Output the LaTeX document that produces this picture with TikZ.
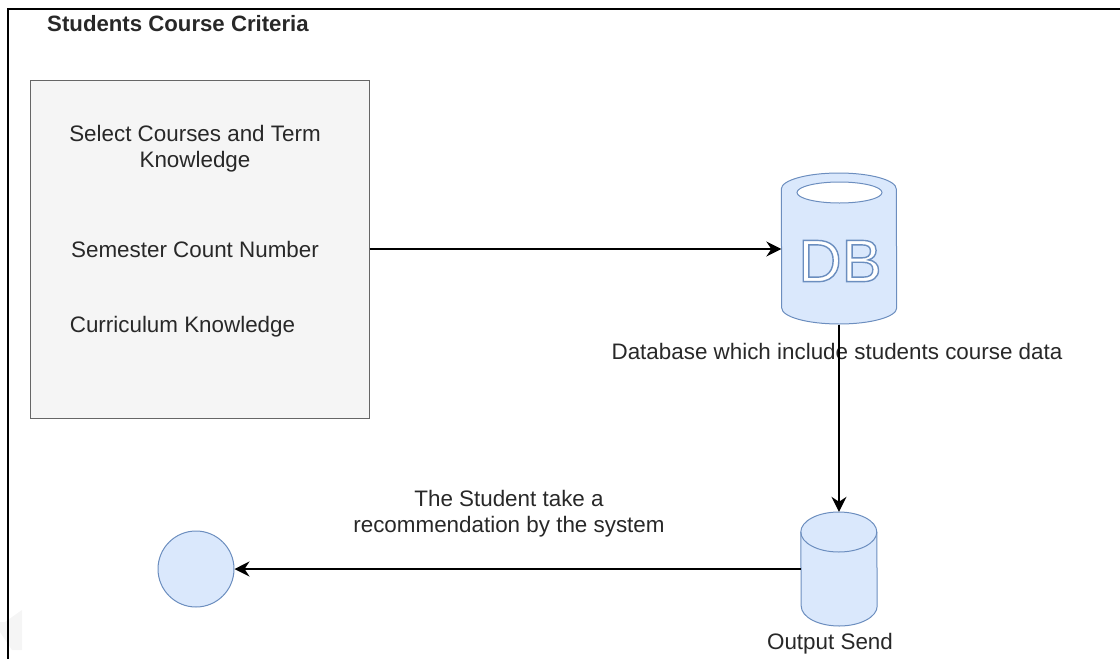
\documentclass[tikz,border=0pt]{standalone}
\usepackage{fontspec}
\setmainfont{Liberation Sans}
\usetikzlibrary{arrows.meta}
\definecolor{boxblue}{RGB}{218,232,252}
\definecolor{edgeblue}{RGB}{108,142,191}
\definecolor{boxgray}{RGB}{245,245,245}
\definecolor{edgegray}{RGB}{102,102,102}
\definecolor{labelgray}{RGB}{40,40,40}
\tikzset{
  frame-line/.style={line width=2pt, draw=black},
  blue-shape/.style={fill=boxblue, draw=edgeblue, line width=1pt, inner sep=0pt},
  input-box/.style={rectangle, fill=boxgray, draw=edgegray, line width=1pt, inner sep=0pt,
    minimum width=339pt, minimum height=338pt},
  blank-area/.style={rectangle, inner sep=0pt},
  label/.style={text=labelgray, font=\fontsize{22.4}{26.5}\selectfont, align=center, inner sep=0pt},
  link/.style={line width=1.3pt, draw=black, -{Stealth[length=15pt,width=15pt,inset=5pt]}}
}
\newcommand{\outlineword}[1]{\textcolor{white}{\special{pdf:code 2 Tr 1.4 w 0.42 0.557 0.749 RG}#1\special{pdf:code 0 Tr}}}

\begin{document}
\begin{tikzpicture}[x=1pt,y=-1pt]
  \useasboundingbox (0,0) rectangle (1120,659);
  % Faint mark in the corner
  \fill[black!4] (0,622) -- (5,622) -- (22,610) -- (22,650) -- (12,650) -- (0,632) -- cycle;
  % Page frame
  \draw[frame-line] (8,659) -- (8,9) -- (1120,9);
  \node[label, font=\bfseries\fontsize{22.2}{26}\selectfont] (title) at (178,24) {Students Course Criteria};
  % Criteria box
  \node[input-box] (criteria) at (199.5,249) {};
  \node[label] (courses) at (195,148.5) {Select Courses and Term\\Knowledge};
  \node[label] (semester) at (195,249) {Semester Count Number};
  \node[label] (curriculum) at (182.5,326.5) {Curriculum Knowledge};
  % Database
  \node[blank-area, minimum width=115pt, minimum height=152pt] (db) at (839,249) {};
  \fill[boxblue, draw=edgeblue, line width=1pt] (db.west |- 0,189) arc[start angle=180, end angle=0, x radius=57.5, y radius=-16]
    -- (db.east |- 0,308) arc[start angle=0, end angle=-180, x radius=57.5, y radius=-16] -- cycle;
  \draw[edgeblue, fill=white, line width=1pt] (839.5,192.5) ellipse [x radius=42.5, y radius=10.5];
  \node[inner sep=0pt, font=\fontsize{60}{60}\selectfont] (dbword) at (840,261) {\outlineword{DB}};
  \node[label] (dblabel) at (837,351) {Database which include students course data};
  % Output and student
  \node[blank-area, minimum width=76pt, minimum height=114pt] (output) at (839,569) {};
  \fill[boxblue, draw=edgeblue, line width=1pt] (output.west |- 0,532) arc[start angle=180, end angle=0, x radius=38, y radius=-20]
    -- (output.east |- 0,606) arc[start angle=0, end angle=-180, x radius=38, y radius=-20] -- cycle;
  \draw[edgeblue, line width=1pt] (output.west |- 0,532) arc[start angle=180, end angle=360, x radius=38, y radius=-20];
  \node[label] (outputlabel) at (830,644) {Output Send};
  \node[blue-shape, circle, minimum size=76pt] (student) at (196,569) {};
  \node[label] (recommend) at (509,513.5) {The Student take a\\recommendation by the system};
  % Links
  \draw[link] (criteria.east |- db.west) -- (db.west);
  \draw[link] (db.south) -- (output.north);
  \draw[link] (output.west) -- (student.east);
\end{tikzpicture}
\end{document}
